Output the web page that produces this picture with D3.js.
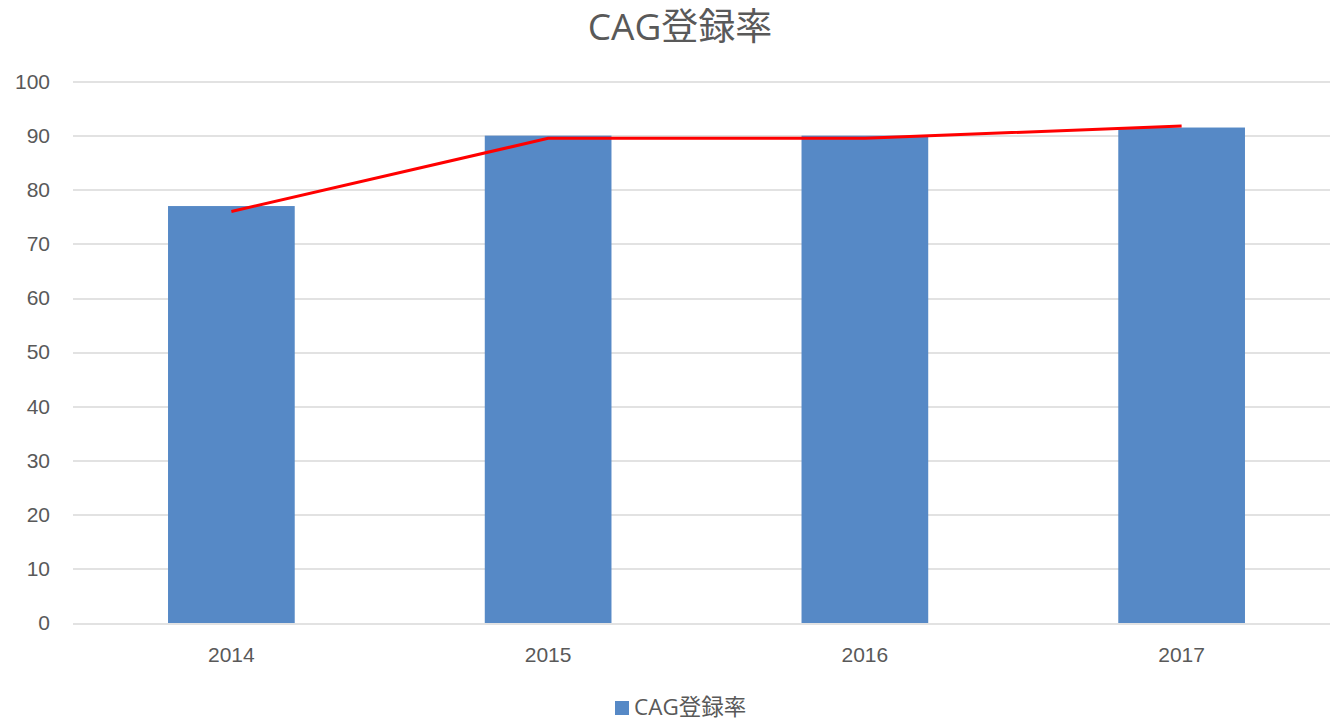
<!DOCTYPE html>
<html>
<head>
<meta charset="utf-8">
<script src="https://cdn.jsdelivr.net/npm/d3@7"></script>
<style>
  body { margin: 0; background: #fff; }
  svg { display: block; font-family: "Open Sans", "Noto Sans CJK JP", sans-serif; }
</style>
</head>
<body>
<script>
// chart data
var years = ["2014", "2015", "2016", "2017"];
var barValues = [77, 90, 90, 91.5];
var lineValues = [76, 89.5, 89.5, 91.8];
var yTicks = [0, 10, 20, 30, 40, 50, 60, 70, 80, 90, 100];
var title = "CAG登録率";

var W = 1330, H = 722;
var margin = { top: 81.5, left: 73, bottom: 99 };
var plotW = 1267; // runs past the right edge, like the cropped reference
var plotH = H - margin.top - margin.bottom;

var svg = d3.select("body").append("svg")
    .attr("width", W)
    .attr("height", H);

var x = d3.scaleBand()
    .domain(years)
    .range([0, plotW])
    .paddingInner(0.6)
    .paddingOuter(0.3);
var y = d3.scaleLinear()
    .domain([0, 100])
    .range([plotH, 0]);

var main = svg.append("g")
    .attr("transform", "translate(" + margin.left + "," + margin.top + ")");

// gridlines
main.append("g")
    .selectAll("line")
    .data(yTicks)
    .enter().append("line")
    .attr("x1", 0)
    .attr("x2", plotW)
    .attr("y1", function (d) { return Math.round(y(d)) + 0.5; })
    .attr("y2", function (d) { return Math.round(y(d)) + 0.5; })
    .attr("stroke", "#d9d9d9")
    .attr("stroke-width", 1.3);

// y axis labels
var yAxis = d3.axisLeft(y).tickValues(yTicks).tickSize(0).tickPadding(23);
main.append("g")
    .call(yAxis)
    .call(function (g) { g.select(".domain").remove(); })
    .selectAll("text")
    .attr("font-size", 21)
    .attr("fill", "#595959");

// bars
main.append("g")
    .selectAll("rect")
    .data(barValues)
    .enter().append("rect")
    .attr("x", function (d, i) { return x(years[i]); })
    .attr("y", function (d) { return y(d); })
    .attr("width", x.bandwidth())
    .attr("height", function (d) { return plotH - y(d); })
    .attr("fill", "#5689c6");

// red line
var line = d3.line()
    .x(function (d, i) { return x(years[i]) + x.bandwidth() / 2; })
    .y(function (d) { return y(d); });
main.append("path")
    .datum(lineValues)
    .attr("d", line)
    .attr("fill", "none")
    .attr("stroke", "#ff0000")
    .attr("stroke-width", 3);

// x axis labels
var xAxis = d3.axisBottom(x).tickSize(0).tickPadding(24);
main.append("g")
    .attr("transform", "translate(0," + plotH + ")")
    .call(xAxis)
    .call(function (g) { g.select(".domain").remove(); })
    .selectAll("text")
    .attr("font-size", 21)
    .attr("fill", "#595959");

// title
svg.append("text")
    .attr("x", 680)
    .attr("y", 40)
    .attr("text-anchor", "middle")
    .attr("font-size", 37)
    .attr("fill", "#595959")
    .text(title);

// legend
var legend = svg.append("g").attr("transform", "translate(615,700)");
legend.append("rect")
    .attr("x", 0).attr("y", 1)
    .attr("width", 14).attr("height", 14)
    .attr("fill", "#5689c6");
legend.append("text")
    .attr("x", 19).attr("y", 15)
    .attr("font-size", 22.5)
    .attr("fill", "#595959")
    .text(title);
</script>
</body>
</html>
